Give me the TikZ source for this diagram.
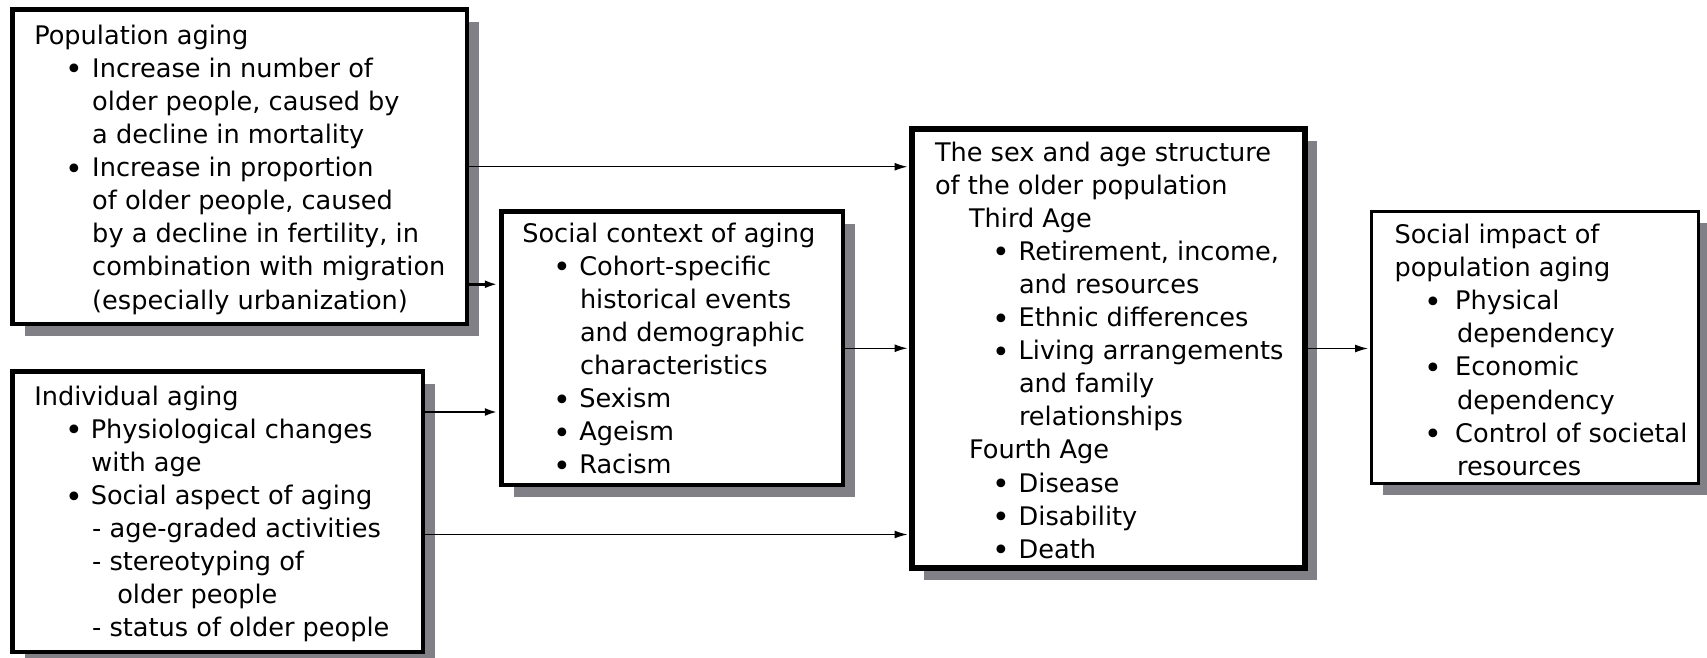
\documentclass[tikz,border=0pt]{standalone}
\usepackage{fontspec}
\setmainfont{DejaVu Sans}
\usetikzlibrary{arrows.meta,shadows}
\definecolor{shadowgray}{RGB}{128,128,134}
\newcommand{\BoxText}[4]{\begin{minipage}[t][#2pt][t]{#1pt}\fontsize{25.6pt}{33.1pt}\selectfont\parindent=0pt\parskip=0pt\leavevmode\rule{0pt}{#3pt}#4\end{minipage}}
\newcommand{\Ln}[2]{\hspace*{#1pt}\mbox{#2}\par}
\newcommand{\Bu}[3]{\hspace*{#1pt}\makebox[0pt]{\raisebox{-2.5pt}{\fontsize{30pt}{33.1pt}\selectfont\textbullet}}\hspace*{#2pt}\mbox{#3}\par}
\begin{document}
\begin{tikzpicture}[x=1pt,y=-1pt,
  box/.style={draw=black, fill=white, inner sep=0pt, anchor=north west,
    drop shadow={shadow xshift=12pt, shadow yshift=-12pt, fill=shadowgray, opacity=1}},
  conn/.style={-{Latex[length=13pt,width=8pt]}, line width=1.3pt, shorten >=1.5pt},
  thickconn/.style={conn, line width=2.6pt}]
\useasboundingbox (0,0) rectangle (1707,657);
\fill[white] (0,0) rectangle (1707,657);

\node[box, line width=4.5pt] (pop) at (10.25,7.25) {\BoxText{454.5}{314.5}{34.75}{%
\Ln{21.75}{Population aging}
\Bu{61.75}{18}{Increase in number of}
\Ln{79.75}{older people, caused by}
\Ln{79.75}{a decline in mortality}
\Bu{61.75}{18}{Increase in proportion}
\Ln{79.75}{of older people, caused}
\Ln{79.75}{by a decline in fertility, in}
\Ln{79.75}{combination with migration}
\Ln{79.75}{(especially urbanization)}}};

\node[box, line width=4.5pt] (soc) at (499.25,209.25) {\BoxText{341.5}{273.5}{30.75}{%
\Ln{20.75}{Social context of aging}
\Bu{60.75}{17}{Cohort-specific}
\Ln{78.5}{historical events}
\Ln{78.5}{and demographic}
\Ln{78.5}{characteristics}
\Bu{60.75}{17}{Sexism}
\Bu{60.75}{17}{Ageism}
\Bu{60.75}{17}{Racism}}};

\node[box, line width=4.5pt] (ind) at (10.25,369.25) {\BoxText{410.5}{280.5}{33.75}{%
\Ln{21.75}{Individual aging}
\Bu{62.25}{16}{Physiological changes}
\Ln{79}{with age}
\Bu{62.25}{16}{Social aspect of aging}
\Ln{79.75}{- age-graded activities}
\Ln{79.75}{- stereotyping of}
\Ln{104.75}{older people}
\Ln{79.75}{- status of older people}}};

\node[box, line width=6pt] (sex) at (909,126) {\BoxText{393}{439}{32}{%
\Ln{23}{The sex and age structure}
\Ln{23}{of the older population}
\Ln{57}{Third Age}
\Bu{89.7}{17}{Retirement, income,}
\Ln{107}{and resources}
\Bu{89.7}{17}{Ethnic differences}
\Bu{89.7}{17}{Living arrangements}
\Ln{107}{and family}
\Ln{107}{relationships}
\Ln{57}{Fourth Age}
\Bu{89.7}{17}{Disease}
\Bu{89.7}{17}{Disability}
\Bu{89.7}{17}{Death}}};

\node[box, line width=3pt] (sum) at (1369.5,209.5) {\BoxText{327}{272}{32.5}{%
\Ln{23.5}{Social impact of}
\Ln{23.5}{population aging}
\Bu{62.2}{22}{Physical}
\Ln{86}{dependency}
\Bu{62.2}{22}{Economic}
\Ln{86}{dependency}
\Bu{62.2}{22}{Control of societal}
\Ln{86}{resources}}};

\draw[conn] (pop.east) -- (pop.east -| sex.west);
\coordinate (p1) at ([yshift=42pt]pop.south east);
\draw[thickconn] (p1) -- (p1 -| soc.west);
\coordinate (p2) at ([yshift=-42.75pt]ind.north east);
\draw[thickconn] (p2) -- (p2 -| soc.west);
\draw[conn] (soc.east) -- (soc.east -| sex.west);
\coordinate (p3) at ([yshift=119.75pt]ind.south east);
\draw[conn] (p3) -- (p3 -| sex.west);
\draw[conn] (sex.east) -- (sex.east -| sum.west);
\end{tikzpicture}
\end{document}
